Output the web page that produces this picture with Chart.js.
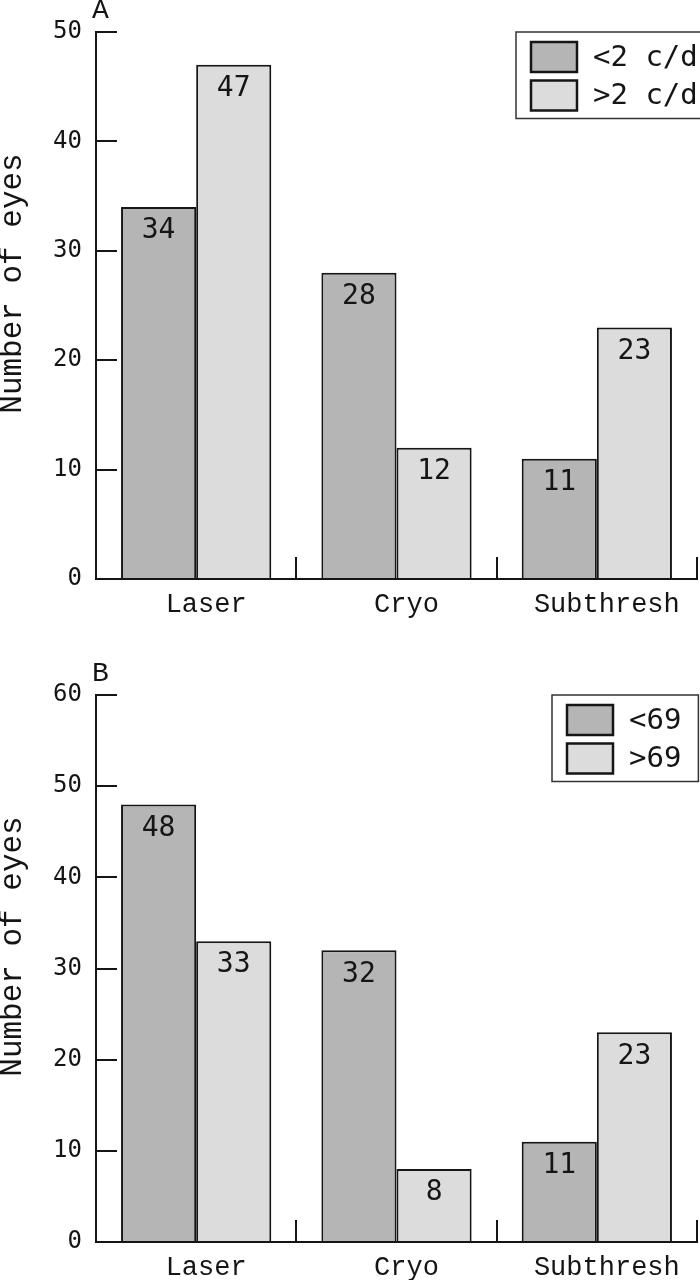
<!DOCTYPE html>
<html>
<head>
<meta charset="utf-8">
<script src="https://cdn.jsdelivr.net/npm/chart.js@4.4.0/dist/chart.umd.min.js"></script>
<style>
  body { margin: 0; background: #fff; }
  #wrap { position: relative; width: 700px; height: 1280px; overflow: hidden; }
  canvas { position: absolute; left: 0; }
</style>
</head>
<body>
<div id="wrap">
  <canvas id="chartA" width="760" height="640" style="top:0px"></canvas>
  <canvas id="chartB" width="760" height="640" style="top:640px"></canvas>
</div>
<script>
const categories = ['Laser', 'Cryo', 'Subthresh']

// panel A: spatial frequency
const seriesA = ['<2 c/d', '>2 c/d']
const lowA = [34, 28, 11]
const highA = [47, 12, 23]
const ticksA = [0, 10, 20, 30, 40, 50]

// panel B: age
const seriesB = ['<69', '>69']
const lowB = [48, 32, 11]
const highB = [33, 8, 23]
const ticksB = [0, 10, 20, 30, 40, 50, 60]

const darkFill = '#b5b5b5'
const lightFill = '#dcdcdc'
const ink = '#151515'

// numbers printed inside the top of each bar
const barValues = {
  id: 'barValues',
  afterDatasetsDraw(chart) {
    const ctx = chart.ctx
    ctx.save()
    ctx.font = '28px "DejaVu Sans Mono"'
    ctx.fillStyle = ink
    ctx.textAlign = 'center'
    ctx.textBaseline = 'middle'
    chart.data.datasets.forEach(function(ds, i) {
      chart.getDatasetMeta(i).data.forEach(function(bar, j) {
        ctx.fillText(ds.data[j], bar.x, bar.y + 24)
      })
    })
    ctx.restore()
  }
}

// boxed legend like the original figure
const boxLegend = {
  id: 'boxLegend',
  afterDraw(chart, args, opts) {
    const ctx = chart.ctx
    const items = chart.data.datasets
    ctx.save()
    ctx.font = '29px "DejaVu Sans Mono"'
    const textW = Math.max(...items.map(d => ctx.measureText(d.label).width))
    const w = 15 + 46 + 16 + textW + 17
    const h = 10 + (items.length - 1) * 38.5 + 30 + 8
    ctx.fillStyle = '#fff'
    ctx.fillRect(opts.x, opts.y, w, h)
    ctx.lineWidth = 1.5
    ctx.strokeStyle = '#333'
    ctx.strokeRect(opts.x, opts.y, w, h)
    items.forEach(function(d, i) {
      const sy = opts.y + 10 + i * 38.5
      ctx.fillStyle = d.backgroundColor
      ctx.fillRect(opts.x + 15, sy, 46, 30)
      ctx.lineWidth = 2.5
      ctx.strokeStyle = ink
      ctx.strokeRect(opts.x + 15, sy, 46, 30)
      ctx.fillStyle = ink
      ctx.textBaseline = 'middle'
      ctx.textAlign = 'left'
      ctx.fillText(d.label, opts.x + 15 + 46 + 16, sy + 16)
    })
    ctx.restore()
  }
}

// panel letter and rotated axis title
const panelText = {
  id: 'panelText',
  afterDraw(chart, args, opts) {
    const ctx = chart.ctx
    const area = chart.chartArea
    ctx.save()
    ctx.fillStyle = ink
    ctx.textBaseline = 'middle'
    ctx.font = '28px "Liberation Mono"'
    ctx.textAlign = 'left'
    ctx.fillText(opts.letter, area.left - 4, area.top - 21)
    ctx.font = '31px "Liberation Mono"'
    ctx.textAlign = 'center'
    ctx.translate(13, (area.top + area.bottom) / 2 - 22)
    ctx.rotate(-Math.PI / 2)
    ctx.fillText(opts.yTitle, 0, 0)
    ctx.restore()
  }
}

function makeChart(id, names, low, high, ticks, letter, legendPos, padTop, xHeight) {
  const ctx = document.getElementById(id).getContext('2d')
  return new Chart(ctx, {
    type: 'bar',
    data: {
      labels: categories,
      datasets: [{
        label: names[0],
        data: low,
        backgroundColor: darkFill,
        borderColor: ink,
        borderWidth: 2
      }, {
        label: names[1],
        data: high,
        backgroundColor: lightFill,
        borderColor: ink,
        borderWidth: 2
      }]
    },
    options: {
      responsive: false,
      animation: false,
      events: [],
      layout: {
        padding: { top: padTop, right: 63, left: 0, bottom: 0 }
      },
      datasets: {
        bar: { barPercentage: 1, categoryPercentage: 0.75 }
      },
      plugins: {
        legend: { display: false },
        tooltip: { enabled: false },
        boxLegend: legendPos,
        panelText: { letter: letter, yTitle: 'Number of eyes' }
      },
      scales: {
        x: {
          offset: true,
          grid: {
            offset: true,
            drawOnChartArea: false,
            drawTicks: true,
            tickLength: -22,
            color: ink,
            lineWidth: 2
          },
          border: { display: true, color: ink, width: 2 },
          ticks: {
            color: ink,
            padding: 32,
            labelOffset: 10,
            font: { family: 'Liberation Mono', size: 27 }
          },
          afterFit(scale) {
            scale.height = xHeight
            scale.paddingLeft = 0
            scale.paddingRight = 0
          }
        },
        y: {
          min: ticks[0],
          max: ticks[ticks.length - 1],
          afterBuildTicks(scale) {
            scale.ticks = ticks.map(v => ({ value: v }))
          },
          grid: {
            drawOnChartArea: false,
            drawTicks: true,
            tickLength: -21,
            color: ink,
            lineWidth: 2
          },
          border: { display: true, color: ink, width: 2 },
          ticks: {
            color: ink,
            padding: 35,
            font: { family: 'DejaVu Sans Mono', size: 24 }
          },
          afterFit(scale) {
            scale.width = 96
            scale.paddingTop = 0
            scale.paddingBottom = 0
          }
        }
      }
    },
    plugins: [barValues, boxLegend, panelText]
  })
}

makeChart('chartA', seriesA, lowA, highA, ticksA, 'A', { x: 516, y: 32 }, 32, 61)
makeChart('chartB', seriesB, lowB, highB, ticksB, 'B', { x: 552, y: 55 }, 55, 38)
</script>
</body>
</html>
